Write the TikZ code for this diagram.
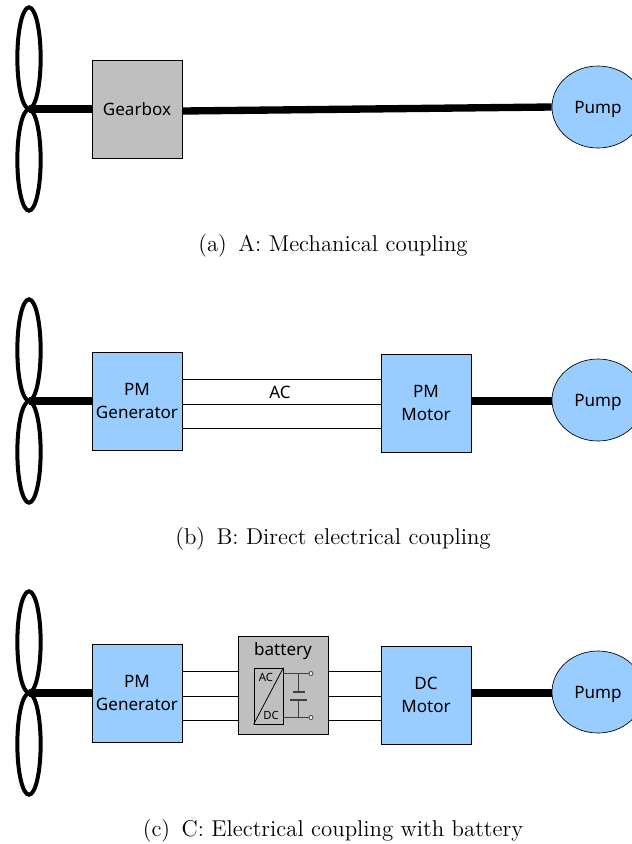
\documentclass[tikz,border=0pt]{standalone}
\usepackage{fontspec}
\newfontfamily\diagfont{Noto Sans}
\usetikzlibrary{shapes.geometric}
\definecolor{boxblue}{HTML}{99CCFF}
\definecolor{boxgray}{HTML}{BFBFBF}
\definecolor{convgray}{HTML}{404040}
\tikzset{
  blade/.style={draw,ellipse,line width=3pt,minimum width=17.5pt,minimum height=76pt,inner sep=0pt},
  shaft/.style={line width=5.5pt},
  wire/.style={line width=.6pt},
  difont/.style={font=\diagfont\fontsize{12.8}{17.25}\selectfont,text depth=0pt},
  unit/.style={draw,line width=.5pt,minimum width=67.5pt,minimum height=73.5pt,align=center,inner sep=0pt,difont,text depth=-3pt},
  pmunit/.style={unit,fill=boxblue},
  grayunit/.style={unit,fill=boxgray},
  pump/.style={draw,ellipse,line width=.5pt,fill=boxblue,minimum width=69pt,minimum height=61.5pt,inner sep=0pt,difont},
  caption/.style={font=\fontsize{11}{13}\selectfont,scale=1.558},
  smalllab/.style={font=\diagfont\fontsize{8.5}{10}\selectfont,inner sep=0pt},
  terminal/.style={draw=convgray,circle,line width=.6pt,fill=white,minimum size=3pt,inner sep=0pt},
  convwire/.style={draw=convgray,line width=.8pt}
}
\begin{document}
\begin{tikzpicture}[x=.75pt,y=-.75pt]
  \clip (0,0) rectangle (632,844);

  % panel a
  \coordinate (huba) at (29,109);
  \node[blade] (upa) at (29,58) {};
  \node[blade] (loa) at (29,160) {};
  \node[grayunit] (gear) at (137,109) {Gearbox};
  \node[pump] (pumpa) at (598,107) {Pump};
  \node[caption] (capa) at (333,246) {(a)\enspace A: Mechanical coupling};
  \draw[shaft] (huba) -- (huba-|gear.west);
  \draw[shaft] ([yshift=-1.5pt]gear.east) -- (pumpa.west);

  % panel b
  \coordinate (hubb) at (29,401);
  \coordinate (acb1) at (280,379);
  \coordinate (acb2) at (280,404);
  \coordinate (acb3) at (280,428);
  \node[blade] (upb) at (29,350) {};
  \node[blade] (lob) at (29,452) {};
  \node[pmunit] (genb) at (137,401) {PM\\Generator};
  \node[pmunit] (motb) at (426,403) {PM\\Motor};
  \node[pump] (pumpb) at (598,400) {Pump};
  \node[difont] (aclabel) at (280,392) {AC};
  \node[caption] (capb) at (333,539) {(b)\enspace B: Direct electrical coupling};
  \draw[shaft] (hubb) -- (hubb-|genb.west);
  \draw[shaft] (motb.east|-hubb) -- (pumpb.west|-hubb);
  \draw[wire] (acb1-|genb.east) -- (acb1-|motb.west);
  \draw[wire] (acb2-|genb.east) -- (acb2-|motb.west);
  \draw[wire] (acb3-|genb.east) -- (acb3-|motb.west);

  % panel c
  \coordinate (hubc) at (29,693);
  \coordinate (dcc1) at (280,671);
  \coordinate (dcc2) at (280,696);
  \coordinate (dcc3) at (280,720);
  \node[blade] (upc) at (29,642) {};
  \node[blade] (loc) at (29,744) {};
  \node[pmunit] (genc) at (137,693) {PM\\Generator};
  \node[grayunit] (batt) at (283,685) {};
  \node[pmunit] (motc) at (426,695) {DC\\Motor};
  \node[pump] (pumpc) at (598,692) {Pump};
  \node[difont] (battlabel) at (283,649) {battery};
  \node[draw=black,line width=.6pt,minimum width=21.75pt,minimum height=42pt,inner sep=0pt] (conv) at (268.5,696) {};
  \node[smalllab] (aclab) at (266,677) {AC};
  \node[smalllab] (dclab) at (271,715) {DC};
  \node[terminal] (termup) at (311,673.5) {};
  \node[terminal] (termlo) at (311,717.5) {};
  \coordinate (plateup) at (298.5,692);
  \coordinate (platelo) at (298.5,700);
  \node[caption] (capc) at (333,831) {(c)\enspace C: Electrical coupling with battery};
  \draw[shaft] (hubc) -- (hubc-|genc.west);
  \draw[shaft] (motc.east|-hubc) -- (pumpc.west|-hubc);
  \draw[wire] (dcc1-|genc.east) -- (dcc1-|batt.west);
  \draw[wire] (dcc2-|genc.east) -- (dcc2-|batt.west);
  \draw[wire] (dcc3-|genc.east) -- (dcc3-|batt.west);
  \draw[wire] (dcc1-|batt.east) -- (dcc1-|motc.west);
  \draw[wire] (dcc2-|batt.east) -- (dcc2-|motc.west);
  \draw[wire] (dcc3-|batt.east) -- (dcc3-|motc.west);
  \draw[line width=.6pt] (conv.north east) -- (conv.south west);
  \draw[convwire] (conv.east|-termup) -- (termup);
  \draw[convwire] (conv.east|-termlo) -- (termlo);
  \draw[convwire] (plateup|-termup) -- (plateup);
  \draw[convwire] (platelo|-termlo) -- (platelo);
  \draw[convwire] ([xshift=-4.5pt]plateup) -- ([xshift=4.5pt]plateup);
  \draw[convwire] ([xshift=-6.5pt]platelo) -- ([xshift=6.5pt]platelo);
\end{tikzpicture}
\end{document}
